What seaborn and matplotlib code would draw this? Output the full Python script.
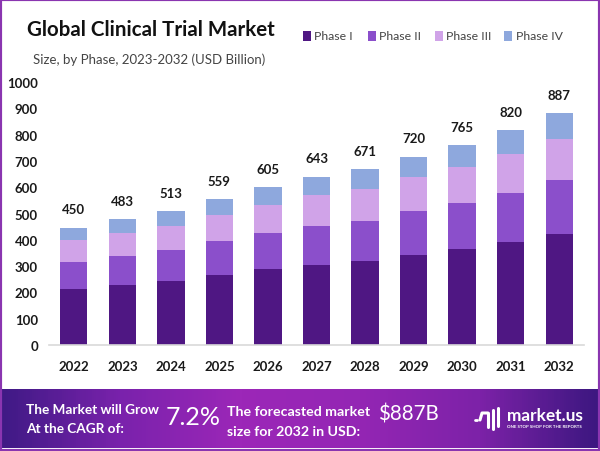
import numpy as np
import matplotlib.pyplot as plt
from matplotlib.colors import LinearSegmentedColormap
from matplotlib.patches import Rectangle
import seaborn as sns

# valores
years = ["2022", "2023", "2024", "2025", "2026", "2027", "2028", "2029", "2030", "2031", "2032"]
totals = [450, 483, 513, 559, 605, 643, 671, 720, 765, 820, 887]
phase_1 = [213, 227, 242, 266, 289, 305, 319, 341, 364, 390, 421]
phase_2 = [104, 111, 119, 128, 137, 147, 152, 167, 176, 189, 205]
phase_3 = [81, 89, 91, 100, 108, 117, 122, 129, 137, 147, 157]
phase_4 = [47, 52, 56, 61, 66, 70, 76, 79, 83, 90, 99]
phases = ["Phase I", "Phase II", "Phase III", "Phase IV"]
phase_colors = ["#4f1783", "#8b4fcb", "#d0a3e8", "#8ea8dd"]
yticks = [0, 100, 200, 300, 400, 500, 600, 700, 800, 900, 1000]

W, H = 600, 452
sns.set_theme(style="white")
plt.rcParams["font.family"] = ["Lato", "DejaVu Sans"]

fig = plt.figure(figsize=(W / 100, H / 100), dpi=100, facecolor="white")

# Marco morado
fig.add_artist(Rectangle((0, 0), 1, 1, transform=fig.transFigure, fill=False,
                         edgecolor="#8a35b0", linewidth=3))

# Ejes en pixeles de la imagen
ax = fig.add_axes([49 / W, (H - 346) / H, 535 / W, 263 / H])
bottom = np.zeros(len(years))
for name, values, color in zip(phases, [phase_1, phase_2, phase_3, phase_4], phase_colors):
    sns.barplot(x=years, y=values, bottom=bottom, color=color, width=0.565,
                saturation=1, ax=ax, linewidth=0, zorder=2)
    bottom = bottom + np.array(values)

ax.set_xlim(-0.51, 10.51)
ax.set_ylim(0, 1000)
ax.set_yticks(yticks)
ax.tick_params(axis="both", length=0, labelsize=9.5, colors="#1a1a1a")
ax.tick_params(axis="x", pad=11)
ax.tick_params(axis="y", pad=8)
for label in ax.get_xticklabels() + ax.get_yticklabels():
    label.set_fontweight("bold")
sns.despine(ax=ax, left=True)
ax.spines["bottom"].set_color("#d9d9d9")
ax.spines["bottom"].set_linewidth(1.2)
ax.patch.set_alpha(0)

for i, total in enumerate(totals):
    ax.annotate(str(total), (i, bottom[i]), xytext=(0, 9), textcoords="offset points",
                ha="center", va="bottom", fontsize=9.5, fontweight="bold", color="#1a1a1a")

# Titulos y leyenda
fig.text(27 / W, 1 - 30 / H, "Global Clinical Trial Market", fontsize=14.8, fontweight="bold",
         color="#111111", va="center")
fig.text(33 / W, 1 - 60 / H, "Size, by Phase, 2023-2032 (USD Billion)", fontsize=9.5,
         color="#444444", va="center")

legend_x = [303, 368, 435, 504]
for x, name, color in zip(legend_x, phases, phase_colors):
    fig.add_artist(Rectangle((x / W, 1 - 42 / H), 8 / W, 10 / H, transform=fig.transFigure,
                             facecolor=color, edgecolor="none"))
    fig.text((x + 11.5) / W, 1 - 36 / H, name, fontsize=8.8, color="#444444", va="center")

# Banda inferior con degradado
banner = fig.add_axes([0, 3 / H, 1, (449 - 390) / H])
cmap = LinearSegmentedColormap.from_list(
    "banda", ["#3f1a85", "#7a22ac", "#9c27b8", "#9426b4", "#7d22a8", "#3c1780"])
banner.imshow(np.linspace(0, 1, 300)[None, :], aspect="auto", cmap=cmap, extent=[0, W, 449, 390])
banner.set_xlim(0, W)
banner.set_ylim(449, 390)
banner.axis("off")

white = dict(color="white", va="center")
banner.text(26, 410, "The Market will Grow", fontsize=9.8, fontweight="bold", **white)
banner.text(26, 429, "At the CAGR of:", fontsize=9.8, fontweight="bold", **white)
banner.text(166, 418, "7.2%", fontsize=18, **white)
banner.text(227, 412, "The forecasted market", fontsize=10.2, fontweight="bold", **white)
banner.text(227, 432, "size for 2032 in USD:", fontsize=10.2, fontweight="bold", **white)
banner.text(378, 415, "$887B", fontsize=14.8, **white)
banner.text(507, 416, "market.us", fontsize=12.4, fontweight="bold", **white)
banner.text(507, 427, "ONE STOP SHOP FOR THE REPORTS", fontsize=3.2, fontweight="bold", **white)

# Logo sencillo
for x, top, low in zip([488, 493, 498], [414, 411, 409], [428, 430, 427]):
    banner.plot([x, x], [top, low], color="white", lw=2.2, solid_capstyle="round")
banner.plot([480, 482, 488], [421, 414, 414], color="white", lw=2.2, solid_capstyle="round")
banner.plot([475, 477], [421, 421], color="white", lw=2, solid_capstyle="round")

fig.savefig("out.png", dpi=100, facecolor="white")
